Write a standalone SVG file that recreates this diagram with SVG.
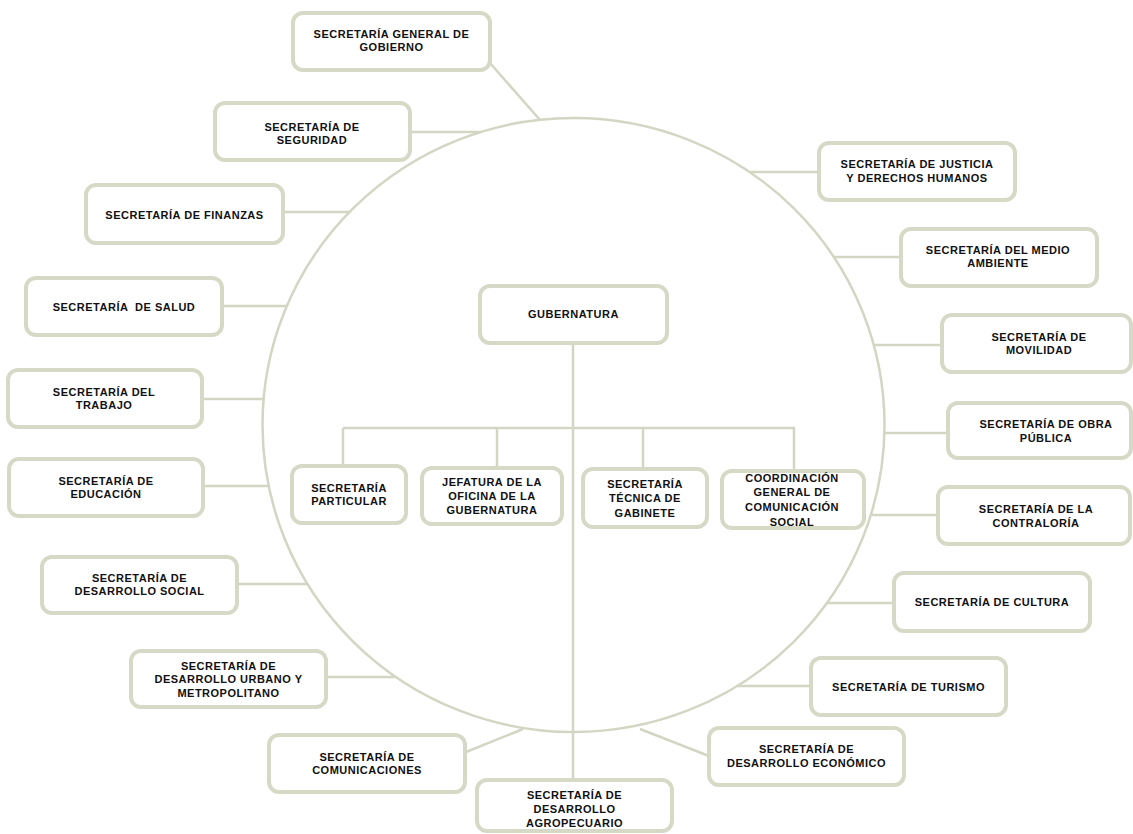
<svg xmlns="http://www.w3.org/2000/svg" width="1133" height="834" viewBox="0 0 1133 834">
<style>
.box{fill:#ffffff;stroke:#D5D9C6;stroke-width:4}
.ln{fill:none;stroke:#D2D6C3;stroke-width:2.5}
.t{font-family:"Liberation Sans",Arial,sans-serif;font-weight:bold;font-size:11px;letter-spacing:0.5px;fill:#111111;text-anchor:middle}
</style>
<rect x="0" y="0" width="1133" height="834" fill="#ffffff"/>
<g id="connectors">
<ellipse class="ln" cx="573.5" cy="425" rx="311" ry="307"/>
<line class="ln" x1="490" y1="63" x2="540" y2="120"/>
<line class="ln" x1="410" y1="132" x2="481" y2="132"/>
<line class="ln" x1="283" y1="212" x2="350" y2="212"/>
<line class="ln" x1="222" y1="306" x2="287" y2="306"/>
<line class="ln" x1="202" y1="399" x2="264" y2="399"/>
<line class="ln" x1="203" y1="486" x2="269" y2="486"/>
<line class="ln" x1="237" y1="584" x2="307" y2="584"/>
<line class="ln" x1="326" y1="677" x2="395" y2="677"/>
<line class="ln" x1="466" y1="752" x2="523" y2="729"/>
<line class="ln" x1="573" y1="343" x2="573" y2="780"/>
<line class="ln" x1="640" y1="729" x2="709" y2="756"/>
<line class="ln" x1="811" y1="686" x2="738" y2="686"/>
<line class="ln" x1="894" y1="603" x2="827" y2="603"/>
<line class="ln" x1="938" y1="515" x2="871" y2="515"/>
<line class="ln" x1="948" y1="433" x2="884" y2="433"/>
<line class="ln" x1="942" y1="345" x2="874" y2="345"/>
<line class="ln" x1="901" y1="257" x2="834" y2="257"/>
<line class="ln" x1="819" y1="172" x2="750" y2="172"/>
<line class="ln" x1="343" y1="428" x2="795" y2="428"/>
<line class="ln" x1="343" y1="428" x2="343" y2="466"/>
<line class="ln" x1="497" y1="428" x2="497" y2="468"/>
<line class="ln" x1="643" y1="428" x2="643" y2="469"/>
<line class="ln" x1="794" y1="428" x2="794" y2="471"/>
</g>
<g id="n-gobierno"><rect class="box" x="293" y="13" width="197" height="57" rx="10"/><text class="t"><tspan x="391.5" y="38">SECRETARÍA GENERAL DE</tspan><tspan x="391.5" y="51">GOBIERNO</tspan></text></g>
<g id="n-seguridad"><rect class="box" x="215" y="103" width="195" height="57" rx="10"/><text class="t"><tspan x="312" y="131">SECRETARÍA DE</tspan><tspan x="312" y="144">SEGURIDAD</tspan></text></g>
<g id="n-finanzas"><rect class="box" x="86" y="185" width="197" height="58" rx="10"/><text class="t"><tspan x="184.5" y="219">SECRETARÍA DE FINANZAS</tspan></text></g>
<g id="n-salud"><rect class="box" x="26" y="278" width="196" height="57" rx="10"/><text class="t" xml:space="preserve"><tspan x="124" y="311">SECRETARÍA  DE SALUD</tspan></text></g>
<g id="n-trabajo"><rect class="box" x="8" y="370" width="194" height="57" rx="10"/><text class="t"><tspan x="104" y="396">SECRETARÍA DEL</tspan><tspan x="104" y="409">TRABAJO</tspan></text></g>
<g id="n-educacion"><rect class="box" x="9" y="459" width="194" height="57" rx="10"/><text class="t"><tspan x="106" y="485">SECRETARÍA DE</tspan><tspan x="106" y="498">EDUCACIÓN</tspan></text></g>
<g id="n-social"><rect class="box" x="42" y="557" width="195" height="56" rx="10"/><text class="t"><tspan x="139.5" y="582">SECRETARÍA DE</tspan><tspan x="139.5" y="595">DESARROLLO SOCIAL</tspan></text></g>
<g id="n-urbano"><rect class="box" x="131" y="651" width="195" height="56" rx="10"/><text class="t"><tspan x="228.5" y="670">SECRETARÍA DE</tspan><tspan x="228.5" y="683">DESARROLLO URBANO Y</tspan><tspan x="228.5" y="697">METROPOLITANO</tspan></text></g>
<g id="n-comunicaciones"><rect class="box" x="269" y="735" width="196" height="57" rx="10"/><text class="t"><tspan x="367" y="761">SECRETARÍA DE</tspan><tspan x="367" y="774">COMUNICACIONES</tspan></text></g>
<g id="n-agropecuario"><rect class="box" x="477" y="780" width="195" height="51" rx="10"/><text class="t"><tspan x="574.5" y="799">SECRETARÍA DE</tspan><tspan x="574.5" y="813">DESARROLLO</tspan><tspan x="574.5" y="827">AGROPECUARIO</tspan></text></g>
<g id="n-economico"><rect class="box" x="709" y="728" width="195" height="57" rx="10"/><text class="t"><tspan x="806.5" y="753">SECRETARÍA DE</tspan><tspan x="806.5" y="767">DESARROLLO ECONÓMICO</tspan></text></g>
<g id="n-turismo"><rect class="box" x="811" y="658" width="195" height="57" rx="10"/><text class="t"><tspan x="908.5" y="691">SECRETARÍA DE TURISMO</tspan></text></g>
<g id="n-cultura"><rect class="box" x="894" y="573" width="196" height="58" rx="10"/><text class="t"><tspan x="992" y="606">SECRETARÍA DE CULTURA</tspan></text></g>
<g id="n-contraloria"><rect class="box" x="938" y="487" width="192" height="57" rx="10"/><text class="t"><tspan x="1036" y="513">SECRETARÍA DE LA</tspan><tspan x="1036" y="527">CONTRALORÍA</tspan></text></g>
<g id="n-obra"><rect class="box" x="948" y="403" width="183" height="55" rx="10"/><text class="t"><tspan x="1046" y="428">SECRETARÍA DE OBRA</tspan><tspan x="1046" y="442">PÚBLICA</tspan></text></g>
<g id="n-movilidad"><rect class="box" x="942" y="315" width="189" height="57" rx="10"/><text class="t"><tspan x="1039" y="341">SECRETARÍA DE</tspan><tspan x="1039" y="354">MOVILIDAD</tspan></text></g>
<g id="n-medio"><rect class="box" x="901" y="229" width="196" height="57" rx="10"/><text class="t"><tspan x="998" y="254">SECRETARÍA DEL MEDIO</tspan><tspan x="998" y="267">AMBIENTE</tspan></text></g>
<g id="n-justicia"><rect class="box" x="819" y="143" width="196" height="57" rx="10"/><text class="t"><tspan x="917" y="168">SECRETARÍA DE JUSTICIA</tspan><tspan x="917" y="182">Y DERECHOS HUMANOS</tspan></text></g>
<g id="n-gubernatura"><rect class="box" x="480" y="286" width="187" height="57" rx="10"/><text class="t"><tspan x="573.5" y="318">GUBERNATURA</tspan></text></g>
<g id="n-particular"><rect class="box" x="292" y="466" width="114" height="57" rx="10"/><text class="t"><tspan x="349" y="492">SECRETARÍA</tspan><tspan x="349" y="505">PARTICULAR</tspan></text></g>
<g id="n-jefatura"><rect class="box" x="422" y="468" width="140" height="56" rx="10"/><text class="t"><tspan x="492" y="486">JEFATURA DE LA</tspan><tspan x="492" y="500">OFICINA DE LA</tspan><tspan x="492" y="514">GUBERNATURA</tspan></text></g>
<g id="n-tecnica"><rect class="box" x="583" y="469" width="124" height="58" rx="10"/><text class="t"><tspan x="645" y="488">SECRETARÍA</tspan><tspan x="645" y="502">TÉCNICA DE</tspan><tspan x="645" y="517">GABINETE</tspan></text></g>
<g id="n-coordinacion"><rect class="box" x="722" y="471" width="142" height="57" rx="10"/><text class="t"><tspan x="792" y="482">COORDINACIÓN</tspan><tspan x="792" y="496">GENERAL DE</tspan><tspan x="792" y="511">COMUNICACIÓN</tspan><tspan x="792" y="526">SOCIAL</tspan></text></g>
</svg>
